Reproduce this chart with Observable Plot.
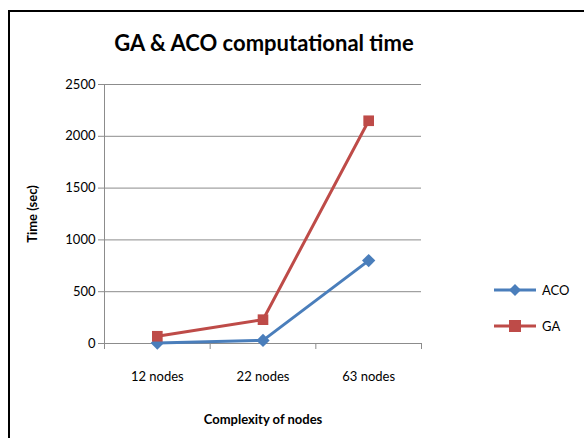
<!DOCTYPE html>
<html><head><meta charset="utf-8">
<script src="https://cdn.jsdelivr.net/npm/d3@7"></script>
<script src="https://cdn.jsdelivr.net/npm/@observablehq/plot@0.6"></script>
<style>
body{margin:0;background:#fff;font-family:Lato,"Open Sans",sans-serif;}
#wrap{position:relative;width:584px;height:438px;overflow:hidden;}
#frame{position:absolute;left:8px;top:10px;width:600px;height:500px;border:2px solid #000;box-sizing:border-box;}
#title{position:absolute;left:0;width:528px;top:29px;text-align:center;font-size:22px;font-weight:bold;color:#000;}
#legend{position:absolute;left:494px;top:272px;font-size:13px;color:#000;}
#legend div{display:flex;align-items:center;height:36px;}
#chart{position:absolute;left:0;top:0;}
#chart g[aria-label="y-axis label"] text, #chart g[aria-label="x-axis label"] text{font-weight:bold;}
</style></head>
<body>
<div id="wrap">
<div id="frame"></div>
<div id="chart"></div>
<div id="title">GA &amp; ACO computational time</div>
<div id="legend"></div>
</div>
<script>
const categories = ["12 nodes", "22 nodes", "63 nodes"];
const aco = [5, 30, 800];
const ga = [70, 230, 2150];
const yTicks = [0, 500, 1000, 1500, 2000, 2500];
const seriesNames = ["ACO", "GA"];
const colors = {ACO: "#4A7EBB", GA: "#BE4B48"};

const rows = [];
categories.forEach((c, i) => {
  rows.push({series: "ACO", cat: c, x: i + 0.5, y: aco[i]});
  rows.push({series: "GA", cat: c, x: i + 0.5, y: ga[i]});
});

const chart = Plot.plot({
  width: 584, height: 438,
  marginLeft: 104, marginRight: 163, marginTop: 84, marginBottom: 95,
  style: {fontFamily: "Lato, 'Open Sans', sans-serif", fontSize: "13px", color: "#000", background: "transparent"},
  x: {domain: [0, categories.length]},
  y: {domain: [0, 2500]},
  marks: [
    Plot.gridY(yTicks, {stroke: "#8c8c8c", strokeOpacity: 1, strokeWidth: 1}),
    Plot.ruleX([0], {stroke: "#8c8c8c"}),
    Plot.ruleY([0], {stroke: "#8c8c8c"}),
    Plot.axisY({ticks: yTicks, tickSize: 6, stroke: "#8c8c8c", tickPadding: 3, fontSize: 13, tickFormat: "d",
      label: "Time (sec)", labelAnchor: "center", labelOffset: 77, labelArrow: "none"}),
    Plot.axisX({ticks: d3.range(categories.length + 1), tickSize: 6, stroke: "#8c8c8c", tickFormat: () => "", label: null}),
    Plot.axisX({ticks: categories.map((c, i) => i + 0.5), tickSize: 0, tickPadding: 28, fontSize: 13,
      tickFormat: (d) => categories[Math.floor(d)],
      label: "Complexity of nodes", labelAnchor: "center", labelOffset: 80, labelArrow: "none"}),
    Plot.line(rows, {x: "x", y: "y", z: "series", stroke: (d) => colors[d.series], strokeWidth: 3}),
    Plot.dot(rows.filter(d => d.series === "ACO"), {x: "x", y: "y", symbol: "diamond2", r: 6, fill: colors.ACO, stroke: null}),
    Plot.dot(rows.filter(d => d.series === "GA"), {x: "x", y: "y", symbol: "square", r: 6, fill: colors.GA, stroke: null})
  ]
});
document.getElementById("chart").appendChild(chart);

const leg = document.getElementById("legend");
seriesNames.forEach(s => {
  const sym = s === "ACO"
    ? `<path d="M21,3 L27,9 L21,15 L15,9 Z" fill="${colors[s]}"/>`
    : `<rect x="15" y="3" width="12" height="12" fill="${colors[s]}"/>`;
  leg.innerHTML += `<div><svg width="44" height="18"><line x1="0" x2="42" y1="9" y2="9" stroke="${colors[s]}" stroke-width="3"/>${sym}</svg><span style="margin-left:4px">${s}</span></div>`;
});
</script>
</body></html>
